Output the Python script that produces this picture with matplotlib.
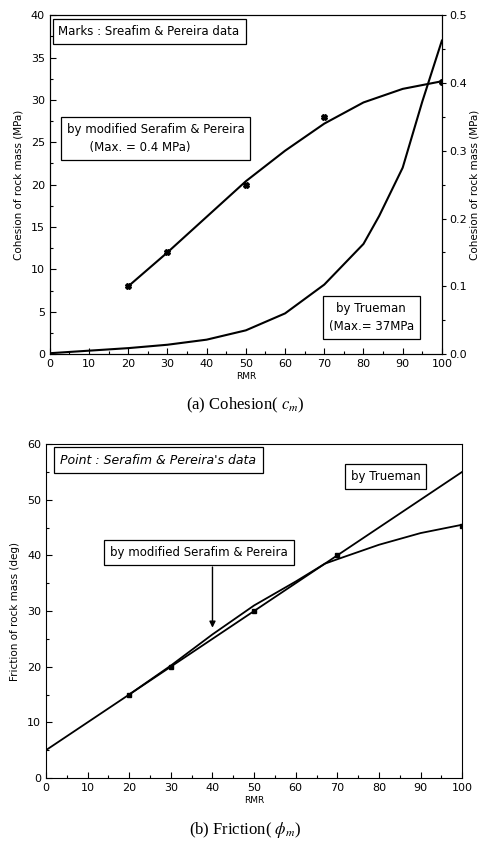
import matplotlib
matplotlib.use("Agg")
import matplotlib.pyplot as plt
from matplotlib.ticker import MultipleLocator, FormatStrFormatter

plt.rcParams['font.family'] = ['DejaVu Sans']
plt.rcParams['mathtext.fontset'] = 'stix'

# --- (a) cohesion data (left axis in MPa x 80 scale)
rmr_true_c = [0, 10, 20, 30, 40, 50, 60, 70, 80, 84, 90, 95, 100]
coh_true = [0.1, 0.4, 0.7, 1.1, 1.7, 2.8, 4.8, 8.2, 13.0, 16.3, 22.0, 29.8, 37.0]

rmr_mod_c = [20, 30, 40, 50, 60, 70, 80, 90, 100]
coh_mod = [8.0, 12.0, 16.2, 20.4, 24.0, 27.2, 29.7, 31.3, 32.2]

rmr_pts_c = [20, 30, 50, 70, 100]
coh_pts = [8.0, 12.0, 19.9, 28.0, 32.1]

# --- (b) friction data
rmr_true_f = [0, 100]
fric_true = [5.0, 55.0]

rmr_mod_f = [20, 30, 40, 50, 60, 67, 70, 80, 90, 100]
fric_mod = [15.0, 20.2, 25.8, 31.0, 35.3, 38.5, 39.3, 41.9, 44.0, 45.5]

rmr_pts_f = [20, 30, 50, 70, 100]
fric_pts = [15.0, 20.0, 30.0, 40.0, 45.3]

box = dict(boxstyle='square,pad=0.5', fc='white', ec='black', lw=0.9)
BOXFS = 8.5

fig = plt.figure(figsize=(4.84, 8.43), dpi=100)

# ---------------- (a) Cohesion ----------------
ax1 = fig.add_axes([0.103, 0.580, 0.810, 0.402])
ax1.plot(rmr_true_c, coh_true, color='black', lw=1.5)
ax1.plot(rmr_mod_c, coh_mod, color='black', lw=1.5)
ax1.plot(rmr_pts_c, coh_pts, ls='none', marker='X', ms=4, color='black')
ax1.set_xlim(0, 100)
ax1.set_ylim(0, 40)
ax1.xaxis.set_major_locator(MultipleLocator(10))
ax1.xaxis.set_minor_locator(MultipleLocator(5))
ax1.yaxis.set_major_locator(MultipleLocator(5))
ax1.yaxis.set_minor_locator(MultipleLocator(2.5))
ax1.tick_params(which='both', direction='in', labelsize=8, width=0.8)
ax1.tick_params(which='major', length=4)
ax1.tick_params(which='minor', length=2.5)
ax1.set_xlabel('RMR', fontsize=6.5, labelpad=2)
ax1.set_ylabel('Cohesion of rock mass (MPa)', fontsize=7.5, labelpad=5)

ax1r = ax1.twinx()
ax1r.set_ylim(0, 0.5)
ax1r.yaxis.set_major_locator(MultipleLocator(0.1))
ax1r.yaxis.set_minor_locator(MultipleLocator(0.05))
ax1r.yaxis.set_major_formatter(FormatStrFormatter('%.1f'))
ax1r.tick_params(which='both', direction='out', labelsize=8, width=0.8, pad=2)
ax1r.tick_params(which='major', length=3)
ax1r.tick_params(which='minor', length=2)
ax1r.set_ylabel('Cohesion of rock mass (MPa)', fontsize=7.5, rotation=90, labelpad=2)

ax1.text(0.022, 0.953, 'Marks : Sreafim & Pereira data', transform=ax1.transAxes,
         ha='left', va='center', fontsize=BOXFS, bbox=dict(box, pad=0.55))
ax1.text(0.270, 0.637, 'by modified Serafim & Pereira\n      (Max. = 0.4 MPa)',
         transform=ax1.transAxes, ha='center', va='center', fontsize=BOXFS,
         linespacing=1.5, multialignment='left', bbox=dict(box, pad=0.8))
ax1.text(0.820, 0.109, 'by Trueman\n(Max.= 37MPa', transform=ax1.transAxes,
         ha='center', va='center', fontsize=BOXFS, linespacing=1.5,
         bbox=dict(box, pad=0.65))

fig.text(0.506, 0.519, r'(a) Cohesion( $c_m$)', ha='center', va='center',
         fontsize=12, family='Liberation Serif')

# ---------------- (b) Friction ----------------
ax2 = fig.add_axes([0.095, 0.0771, 0.860, 0.3962])
ax2.plot(rmr_true_f, fric_true, color='black', lw=1.3)
ax2.plot(rmr_mod_f, fric_mod, color='black', lw=1.3)
ax2.plot(rmr_pts_f, fric_pts, ls='none', marker='s', ms=3.5, color='black')
ax2.set_xlim(0, 100)
ax2.set_ylim(0, 60)
ax2.xaxis.set_major_locator(MultipleLocator(10))
ax2.xaxis.set_minor_locator(MultipleLocator(5))
ax2.yaxis.set_major_locator(MultipleLocator(10))
ax2.yaxis.set_minor_locator(MultipleLocator(5))
ax2.tick_params(which='both', direction='in', labelsize=8, width=0.8)
ax2.tick_params(which='major', length=4)
ax2.tick_params(which='minor', length=2.5)
ax2.set_xlabel('RMR', fontsize=6.5, labelpad=2)
ax2.set_ylabel('Friction of rock mass (deg)', fontsize=7.5, labelpad=5)

ax2.text(0.270, 0.952, "Point : Serafim & Pereira's data", transform=ax2.transAxes,
         ha='center', va='center', fontsize=9, style='italic',
         bbox=dict(box, pad=0.45))
ax2.text(0.816, 0.903, 'by Trueman', transform=ax2.transAxes,
         ha='center', va='center', fontsize=BOXFS, bbox=dict(box, pad=0.7))
ax2.text(0.368, 0.674, 'by modified Serafim & Pereira', transform=ax2.transAxes,
         ha='center', va='center', fontsize=BOXFS, bbox=dict(box, pad=0.7))
ax2.annotate('', xy=(40, 27), xytext=(40, 37.9),
             arrowprops=dict(arrowstyle='-|>', color='black', lw=1.0,
                             mutation_scale=9, shrinkA=0, shrinkB=0))

fig.text(0.506, 0.0154, r'(b) Friction( $\phi_m$)', ha='center', va='center',
         fontsize=12, family='Liberation Serif')

fig.savefig('out.png', dpi=100)
